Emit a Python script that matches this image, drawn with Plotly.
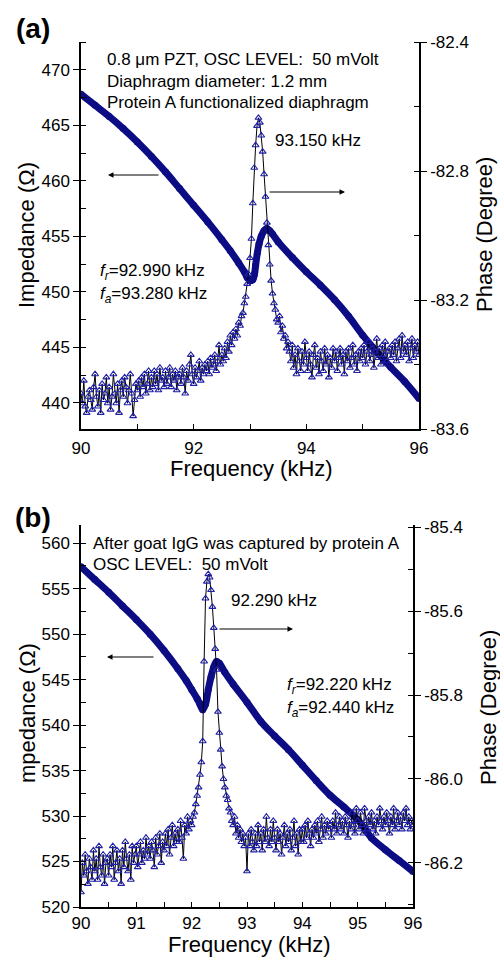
import numpy as np
import plotly.graph_objects as go

# ---------------- data ----------------
# frequency sweep used for the phase traces (kHz)
SWEEP_START, SWEEP_STOP, SWEEP_POINTS = 90.0, 96.0, 241
phase_freq = np.round(np.linspace(SWEEP_START, SWEEP_STOP, SWEEP_POINTS), 3)

# panel (a): impedance (Ohm) vs frequency
imp_a_freq = [90.0, 90.25, 90.5, 90.75, 91.0, 91.25, 91.5, 91.75, 92.0, 92.25, 92.5, 92.65,
              92.8, 92.9, 92.95, 93.0, 93.05, 93.08, 93.1, 93.13, 93.16, 93.2, 93.25, 93.3,
              93.35, 93.4, 93.5, 93.75, 94.0, 94.25, 94.5, 94.75, 95.0, 95.25, 95.5, 95.75, 96.0]
imp_a = [467.8, 466.8, 465.8, 464.7, 463.5, 462.2, 460.8, 459.3, 457.8, 456.3, 454.7, 453.7,
         452.6, 451.8, 451.3, 451.0, 451.1, 451.6, 452.4, 453.5, 454.3, 455.0, 455.5, 455.7,
         455.5, 455.2, 454.5, 453.1, 451.8, 450.6, 449.3, 447.8, 446.1, 444.6, 443.2, 441.9, 440.4]

# panel (a): phase (degree) on the sweep grid
phase_a = [
    -83.49, -83.52, -83.45, -83.53, -83.55, -83.50, -83.48, -83.51, -83.54, -83.47,
    -83.43, -83.50, -83.53, -83.48, -83.55, -83.46, -83.51, -83.49, -83.44, -83.52,
    -83.47, -83.54, -83.50, -83.43, -83.49, -83.52, -83.46, -83.55, -83.48, -83.45,
    -83.50, -83.44, -83.47, -83.52, -83.48, -83.43, -83.49, -83.56, -83.51, -83.46,
    -83.48, -83.45, -83.50, -83.44, -83.47, -83.43, -83.49, -83.46, -83.42, -83.48,
    -83.44, -83.47, -83.42, -83.46, -83.43, -83.48, -83.41, -83.45, -83.44, -83.47,
    -83.42, -83.46, -83.44, -83.41, -83.47, -83.43, -83.45, -83.42, -83.48, -83.44,
    -83.43, -83.46, -83.41, -83.44, -83.49, -83.42, -83.45, -83.40, -83.37, -83.43,
    -83.46, -83.41, -83.44, -83.42, -83.39, -83.45, -83.41, -83.43, -83.40, -83.42,
    -83.39, -83.43, -83.38, -83.41, -83.40, -83.37, -83.42, -83.39, -83.34, -83.40,
    -83.37, -83.39, -83.35, -83.38, -83.33, -83.36, -83.31, -83.34, -83.30, -83.32,
    -83.29, -83.31, -83.27, -83.28, -83.25, -83.24, -83.21, -83.19, -83.15, -83.12,
    -83.07, -83.01, -82.90, -82.79, -82.72, -82.66, -82.635, -82.65, -82.69, -82.74,
    -82.81, -82.88, -82.96, -83.03, -83.09, -83.14, -83.18, -83.21, -83.23, -83.26,
    -83.27, -83.25, -83.30, -83.28, -83.32, -83.31, -83.35, -83.33, -83.36, -83.39,
    -83.34, -83.41, -83.37, -83.43, -83.35, -83.39, -83.42, -83.36, -83.40, -83.33,
    -83.38, -83.42, -83.36, -83.40, -83.44, -83.37, -83.34, -83.41, -83.38, -83.43,
    -83.36, -83.39, -83.42, -83.35, -83.40, -83.37, -83.44, -83.38, -83.41, -83.35,
    -83.39, -83.36, -83.42, -83.38, -83.35, -83.40, -83.37, -83.43, -83.36, -83.39,
    -83.35, -83.41, -83.38, -83.34, -83.40, -83.37, -83.42, -83.36, -83.39, -83.35,
    -83.38, -83.34, -83.40, -83.36, -83.33, -83.39, -83.37, -83.35, -83.41, -83.36,
    -83.32, -83.38, -83.35, -83.40, -83.34, -83.37, -83.33, -83.39, -83.36, -83.35,
    -83.38, -83.34, -83.37, -83.33, -83.39, -83.35, -83.32, -83.38, -83.31, -83.36,
    -83.34, -83.37, -83.33, -83.39, -83.35, -83.32, -83.38, -83.34, -83.36, -83.33,
    -83.37,
]

# panel (b): impedance (Ohm) vs frequency
imp_b_freq = [90.0, 90.25, 90.5, 90.75, 91.0, 91.25, 91.5, 91.75, 91.9, 92.0, 92.1, 92.15,
              92.2, 92.25, 92.3, 92.35, 92.4, 92.45, 92.5, 92.6, 92.75, 93.0, 93.25, 93.5,
              93.75, 94.0, 94.25, 94.5, 94.75, 95.0, 95.25, 95.5, 95.75, 96.0]
imp_b = [557.4, 556.0, 554.6, 553.1, 551.6, 550.0, 548.2, 546.2, 544.9, 543.9, 542.9, 542.3,
         541.7, 542.3, 543.9, 545.3, 546.4, 547.0, 546.8, 545.8, 544.5, 542.5, 540.4, 538.8,
         537.3, 535.6, 533.9, 532.3, 531.0, 529.6, 527.6, 526.3, 525.1, 523.9]

# panel (b): phase (degree) on the sweep grid
phase_b = [
    -86.27, -86.20, -86.23, -86.18, -86.22, -86.25, -86.19, -86.21, -86.24, -86.17,
    -86.22, -86.19, -86.24, -86.16, -86.21, -86.23, -86.18, -86.25, -86.20, -86.19,
    -86.23, -86.18, -86.21, -86.16, -86.24, -86.20, -86.17, -86.22, -86.19, -86.25,
    -86.17, -86.21, -86.15, -86.19, -86.22, -86.18, -86.24, -86.16, -86.20, -86.18,
    -86.16, -86.21, -86.18, -86.15, -86.20, -86.17, -86.19, -86.14, -86.18, -86.16,
    -86.19, -86.15, -86.17, -86.21, -86.14, -86.18, -86.16, -86.13, -86.20, -86.15,
    -86.17, -86.13, -86.16, -86.12, -86.18, -86.14, -86.11, -86.16, -86.13, -86.15,
    -86.12, -86.15, -86.10, -86.14, -86.19, -86.11, -86.13, -86.09, -86.12, -86.10,
    -86.11, -86.09, -86.08, -86.06, -86.04, -86.02, -85.99, -85.96, -85.91, -85.72,
    -85.57, -85.53, -85.512, -85.52, -85.55, -85.59, -85.64, -85.69, -85.74, -85.84,
    -85.89, -85.93, -85.97, -86.00, -86.02, -86.04, -86.05, -86.07, -86.08, -86.10,
    -86.11, -86.09, -86.13, -86.11, -86.14, -86.12, -86.15, -86.13, -86.16, -86.14,
    -86.22, -86.13, -86.16, -86.12, -86.15, -86.17, -86.13, -86.16, -86.11, -86.15,
    -86.13, -86.17, -86.12, -86.15, -86.09, -86.14, -86.16, -86.12, -86.15, -86.10,
    -86.14, -86.17, -86.12, -86.15, -86.13, -86.18, -86.14, -86.11, -86.16, -86.13,
    -86.15, -86.12, -86.17, -86.14, -86.10, -86.16, -86.13, -86.18, -86.12, -86.15,
    -86.12, -86.15, -86.11, -86.14, -86.10, -86.13, -86.16, -86.12, -86.14, -86.11,
    -86.13, -86.10, -86.15, -86.12, -86.09, -86.14, -86.11, -86.13, -86.10, -86.12,
    -86.11, -86.14, -86.10, -86.12, -86.08, -86.13, -86.11, -86.09, -86.12, -86.10,
    -86.13, -86.09, -86.11, -86.14, -86.10, -86.12, -86.08, -86.11, -86.13, -86.07,
    -86.10, -86.12, -86.08, -86.11, -86.13, -86.07, -86.10, -86.12, -86.09, -86.11,
    -86.08, -86.12, -86.10, -86.13, -86.09, -86.11, -86.07, -86.10, -86.12, -86.09,
    -86.11, -86.08, -86.10, -86.13, -86.09, -86.11, -86.07, -86.12, -86.10, -86.08,
    -86.11, -86.09, -86.12, -86.08, -86.10, -86.07, -86.11, -86.09, -86.12, -86.10,
    -86.11,
]

# tick labels
phase_a_ticks = [-83.6, -83.2, -82.8, -82.4]
phase_a_ticktext = ["-83.6", "-83.2", "-82.8", "-82.4"]
phase_b_ticks = [-86.2, -86.0, -85.8, -85.6, -85.4]
phase_b_ticktext = ["-86.2", "-86.0", "-85.8", "-85.6", "-85.4"]

# ---------------- figure ----------------
W, H = 500, 957
FONT = "Liberation Sans, Arial, Helvetica, sans-serif"
NAVY = "#0c0c84"
TRI = "#1f1fa8"


def px(x):
    return x / W


def py(y):
    return 1 - y / H


fig = go.Figure()

fig.add_trace(go.Scatter(x=imp_a_freq, y=imp_a, xaxis="x", yaxis="y", mode="lines+markers",
                         line=dict(color=NAVY, width=7, shape="spline"),
                         marker=dict(symbol="circle", size=7, color=NAVY), showlegend=False))
fig.add_trace(go.Scatter(x=phase_freq, y=phase_a, xaxis="x", yaxis="y2", mode="lines+markers",
                         line=dict(color="black", width=1),
                         marker=dict(symbol="triangle-up-open", size=6, color=TRI,
                                     line=dict(width=1.1, color=TRI)), showlegend=False))
fig.add_trace(go.Scatter(x=imp_b_freq, y=imp_b, xaxis="x2", yaxis="y3", mode="lines+markers",
                         line=dict(color=NAVY, width=7, shape="spline"),
                         marker=dict(symbol="circle", size=7, color=NAVY), showlegend=False))
fig.add_trace(go.Scatter(x=phase_freq, y=phase_b, xaxis="x2", yaxis="y4", mode="lines+markers",
                         line=dict(color="black", width=1),
                         marker=dict(symbol="triangle-up-open", size=6, color=TRI,
                                     line=dict(width=1.1, color=TRI)), showlegend=False))

axis_common = dict(showgrid=False, zeroline=False, showline=True, linecolor="black", linewidth=1.5,
                   ticks="outside", ticklen=6, tickwidth=1.2, tickcolor="black", automargin=False,
                   tickfont=dict(family=FONT, size=17, color="black"))


def minor(d):
    return dict(dtick=d, ticks="inside", ticklen=5, tickwidth=1.2, tickcolor="black", showgrid=False)


top_common = dict(showgrid=False, zeroline=False, showline=True, linecolor="black", linewidth=1.5,
                  ticks="inside", ticklen=5, tickwidth=1.2, tickcolor="black",
                  showticklabels=False, automargin=False)

dom_a_x = [px(81), px(419)]
dom_a_y = [py(429), py(42)]
dom_b_x = [px(81), px(413)]
dom_b_y = [py(907), py(525)]

x_bottom = dict(axis_common)
x_bottom.update(ticks="inside", ticklen=5)

fig.update_layout(
    template="none",
    width=W, height=H, margin=dict(l=0, r=0, t=0, b=0, autoexpand=False),
    paper_bgcolor="white", plot_bgcolor="white",
    font=dict(family=FONT, color="black"),
    xaxis=dict(**x_bottom, domain=dom_a_x, anchor="y", range=[90, 96], tick0=90, dtick=2,
               minor=minor(1), ticklabelstandoff=3),
    yaxis=dict(**axis_common, domain=dom_a_y, anchor="x", range=[437.65, 472.5], tick0=440, dtick=5,
               minor=minor(2.5)),
    yaxis2=dict(**axis_common, overlaying="y", side="right", anchor="x", range=[-83.6, -82.4],
                tickvals=phase_a_ticks, ticktext=phase_a_ticktext, minor=minor(0.2)),
    xaxis3=dict(**top_common, overlaying="x", side="top", anchor="y", range=[90, 96], tick0=90, dtick=1),
    xaxis2=dict(**x_bottom, domain=dom_b_x, anchor="y3", range=[90, 96], tick0=90, dtick=1,
                minor=minor(0.5)),
    yaxis3=dict(**axis_common, domain=dom_b_y, anchor="x2", range=[520, 562], tick0=520, dtick=5,
                minor=minor(2.5)),
    yaxis4=dict(**axis_common, overlaying="y3", side="right", anchor="x2", range=[-86.305, -85.395],
                tickvals=phase_b_ticks, ticktext=phase_b_ticktext, minor=minor(0.1)),
    xaxis4=dict(**top_common, overlaying="x2", side="top", anchor="y3", range=[90, 96], tick0=90, dtick=0.5),
)

ann = []


def text(x, y, s, size=17, xanchor="left", angle=0, bold=False):
    ann.append(dict(x=px(x), y=py(y), xref="paper", yref="paper", text=(f"<b>{s}</b>" if bold else s),
                    showarrow=False, xanchor=xanchor, yanchor="middle", textangle=angle,
                    font=dict(family=FONT, size=size, color="black")))


def arrow(x_head, y, dx):
    ann.append(dict(x=px(x_head), y=py(y), xref="paper", yref="paper", text="", showarrow=True,
                    ax=dx, ay=0, arrowhead=2, arrowsize=1, arrowwidth=1.1, arrowcolor="black"))


NB = "\u00a0"
# panel (a)
text(33, 29, "(a)", size=28, xanchor="center", bold=True)
text(105, 60, f"0.8 μm PZT, OSC LEVEL:{NB}{NB}50 mVolt")
text(105, 81, "Diaphragm diameter: 1.2 mm")
text(105, 103, "Protein A functionalized diaphragm")
text(273, 140, "93.150 kHz")
text(98, 272, "<i>f<sub>r</sub></i>=92.990 kHz")
text(98, 295, "<i>f<sub>a</sub></i>=93.280 kHz")
arrow(108, 175, 52)
arrow(345, 192, -77)
text(26, 235, "Impedance (Ω)", size=22, xanchor="center", angle=-90)
text(484, 235, "Phase (Degree)", size=22, xanchor="center", angle=-90)
text(251, 468, "Frequency (kHz)", size=22, xanchor="center")

# panel (b)
text(33, 517, "(b)", size=28, xanchor="center", bold=True)
text(91, 543, "After goat IgG was captured by protein A")
text(91, 564, f"OSC LEVEL:{NB}{NB}50 mVolt")
text(229, 600, "92.290 kHz")
text(285, 686, "<i>f<sub>r</sub></i>=92.220 kHz")
text(285, 709, "<i>f<sub>a</sub></i>=92.440 kHz")
arrow(107, 657, 48)
arrow(293, 629, -75)
text(27, 713, "mpedance (Ω)", size=22, xanchor="center", angle=-90)
text(488, 708, "Phase (Degree)", size=22, xanchor="center", angle=-90)
text(249, 944, "Frequency (kHz)", size=22, xanchor="center")

fig.update_layout(annotations=ann)
fig.write_html("out.html", config={"displayModeBar": False},
               post_script="document.body.style.margin='0';document.body.style.overflow='hidden';")
